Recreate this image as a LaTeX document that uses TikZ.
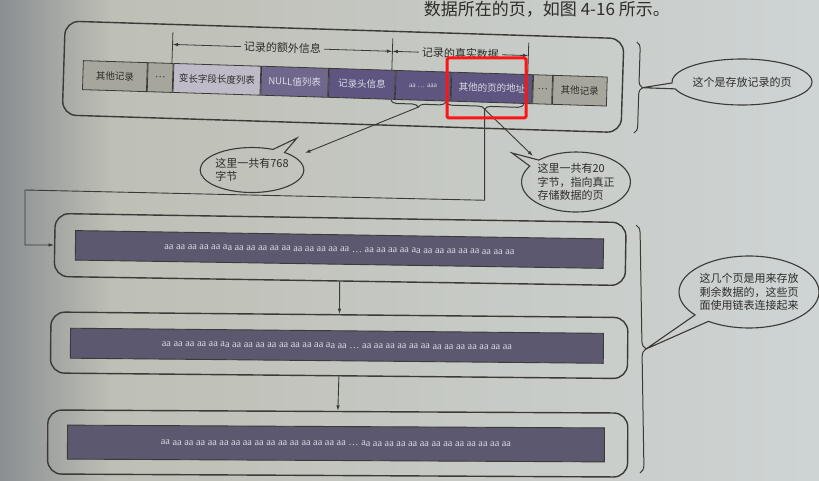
\documentclass[tikz,border=0pt]{standalone}
\usepackage{fontspec}
\setmainfont{Noto Sans CJK SC}
\newfontfamily\latf{Liberation Serif}
\usetikzlibrary{shapes.callouts,decorations.pathreplacing,arrows.meta}

\definecolor{paperA}{RGB}{138,142,146}
\definecolor{paperB}{RGB}{190,191,181}
\definecolor{paperC}{RGB}{206,212,212}
\definecolor{ink}{RGB}{58,58,54}
\definecolor{darktext}{RGB}{45,45,42}
\definecolor{cellgray}{RGB}{166,166,156}
\definecolor{celllight}{RGB}{190,186,200}
\definecolor{cellnull}{RGB}{112,104,140}
\definecolor{celldark}{RGB}{94,86,128}
\definecolor{barfill}{RGB}{92,88,112}
\definecolor{lighttext}{RGB}{218,218,228}
\definecolor{hl}{RGB}{250,22,22}

\newcommand\aarow{aa aa aa aa aa aa aa aa aa aa aa aa aa aa aa aa … aa aa aa aa aa aa aa aa aa aa aa aa aa}

\begin{document}
\begin{tikzpicture}[x=1pt,y=-1pt,
  pageframe/.style={draw=ink, line width=1.4pt, rounded corners=14pt, inner sep=0pt},
  cellbox/.style={draw=ink, line width=0.8pt, minimum height=29pt, inner sep=0pt, anchor=west,
     font=\fontsize{9.5}{10}\selectfont},
  grayc/.style={cellbox, fill=cellgray, text=darktext},
  lightc/.style={cellbox, fill=celllight, text=darktext},
  nullc/.style={cellbox, fill=cellnull, text=lighttext},
  darkc/.style={cellbox, fill=celldark, text=lighttext},
  databar/.style={draw=ink, line width=0.9pt, fill=barfill, inner sep=0pt, anchor=west,
     text=lighttext, font=\latf\fontsize{10.3}{11}\selectfont},
  dimlab/.style={inner sep=3pt, text=darktext, font=\fontsize{11}{12}\selectfont},
  conn/.style={draw=ink, line width=0.9pt},
  tip/.style={-{Latex[length=5.5pt,width=3.6pt]}},
  bracel/.style={draw=ink, line width=1pt, decorate, decoration={brace, amplitude=#1}},
  bubble/.style={ellipse callout, draw=ink, line width=1.1pt, inner sep=0pt, align=left,
     text=darktext, font=\fontsize{11}{13.5}\selectfont},
]
\useasboundingbox (0,0) rectangle (819,481);
\clip (0,0) rectangle (819,481);
\fill[left color=paperA, right color=paperB] (0,0) rectangle (112,481);
\fill[left color=paperB, right color=paperC] (111.5,0) rectangle (819,481);

% text of the book page at the top
\node[anchor=base east, inner sep=0pt, text=darktext, font=\fontsize{17}{17}\selectfont] (toptext) at (670,16) {数据所在的页，如图 4-16 所示。};

% ===== top page (record page) =====
\begin{scope}[rotate around={-1.8:(63,60)}, transform shape]
  \node[pageframe, minimum width=559pt, minimum height=94pt] (page1) at (343.5,68) {};
  \node[grayc, minimum width=64pt] (c1) at (83,74.5) {其他记录};
  \node[grayc, minimum width=25pt] (c2) at (c1.east) {…};
  \node[lightc, minimum width=87pt] (c3) at (c2.east) {变长字段长度列表};
  \node[nullc, minimum width=67pt] (c4) at (c3.east) {NULL值列表};
  \node[darkc, minimum width=66pt] (c5) at (c4.east) {记录头信息};
  \node[darkc, minimum width=55pt, font=\latf\fontsize{7.5}{8}\selectfont] (c6) at (c5.east) {aa … aaa};
  \node[darkc, minimum width=81pt] (c7) at (c6.east) {其他的页的地址};
  \node[grayc, minimum width=19pt] (c8) at (c7.east) {…};
  \node[grayc, minimum width=54pt] (c9) at (c8.east) {其他记录};
  % dimension lines
  \draw[conn, line width=0.8pt] (172,29) -- (172,60);
  \draw[conn, line width=0.8pt] (392,28) -- (392,60);
  \draw[conn, line width=0.8pt] (528,28) -- (528,60);
  \coordinate (k1) at (172,41);
  \coordinate (k2) at (392,41);
  \coordinate (k3) at (528,41);
  \node[dimlab] (L1) at (282,41) {记录的额外信息};
  \node[dimlab] (L2) at (460,41) {记录的真实数据};
  \draw[conn, line width=0.8pt, tip] (L1.west) -- (k1);
  \draw[conn, line width=0.8pt, tip] (L1.east) -- (k2);
  \draw[conn, line width=0.8pt, tip] (L2.west) -- (k2);
  \draw[conn, line width=0.8pt, tip] (L2.east) -- (k3);
  % braces under the cells
  \draw[bracel=6pt] (447,90) -- (392,90);
  \draw[bracel=6pt] (525,90) -- (447,90);
  \coordinate (t1) at (419.5,96);
  \coordinate (t2) at (486,96);
  % right brace
  \draw[bracel=7pt] (636,24) -- (636,115);
  \coordinate (t3) at (643,69.5);
\end{scope}

% ===== remaining data pages =====
\begin{scope}[rotate around={-0.9:(54,245)}, transform shape]
  \node[pageframe, minimum width=571pt, minimum height=63pt, anchor=west] (p2) at (54,245) {};
  \node[databar, minimum width=528pt, minimum height=29.5pt] (b2) at (75,245) {\aarow};
\end{scope}
\begin{scope}[rotate around={-0.55:(50,342.5)}, transform shape]
  \node[pageframe, minimum width=577pt, minimum height=61pt, anchor=west] (p3) at (50,342.5) {};
  \node[databar, minimum width=533pt, minimum height=30pt] (b3) at (70,343) {\aarow};
\end{scope}
\begin{scope}[rotate around={-0.3:(47,442)}, transform shape]
  \node[pageframe, minimum width=580pt, minimum height=64pt, anchor=west] (p4) at (47,442) {};
  \node[databar, minimum width=537pt, minimum height=34pt] (b4) at (67,442) {\aarow};
\end{scope}

\draw[conn, tip] (p2.south) -- (p3.north);
\draw[conn, tip] (p3.south) -- (p4.north);

% lower brace
\draw[bracel=8pt] (636,225) -- (640,473);
\coordinate (t4) at (646,349);

% link from the page address to the next page
\draw[conn, tip] (t2) -- ++(0,91) coordinate (r0) -- (25,190) coordinate (r1) |- (p2.west);

% callouts
\coordinate (c1p) at (297,138);
\coordinate (a1) at (305,153);
\coordinate (c2p) at (512,153);
\coordinate (a2) at (533,156);

\node[bubble, minimum width=100pt, minimum height=45pt, callout absolute pointer={(c1p)}] (n768) at (252,170) {这里一共有768\\字节};
\node[bubble, minimum width=107pt, minimum height=60pt, callout absolute pointer={(c2p)}] (n20) at (576,182) {这里一共有20\\字节，指向真正\\存储数据的页};
\node[bubble, minimum width=110pt, minimum height=46pt, callout absolute pointer={(t3)}] (nrec) at (742,82) {这个是存放记录的页};
\node[bubble, minimum width=122pt, minimum height=72pt, callout absolute pointer={(t4)}] (nrest) at (749,292) {这几个页是用来存放\\剩余数据的，这些页\\面使用链表连接起来};

\draw[conn, tip] (t1) -- (a1);
\draw[conn, tip] (t2) -- (a2);

% red highlight
\node[draw=hl, line width=3pt, rounded corners=1.5pt, minimum width=79pt, minimum height=60pt, inner sep=0pt] (hlbox) at (486.5,88) {};
\end{tikzpicture}
\end{document}
